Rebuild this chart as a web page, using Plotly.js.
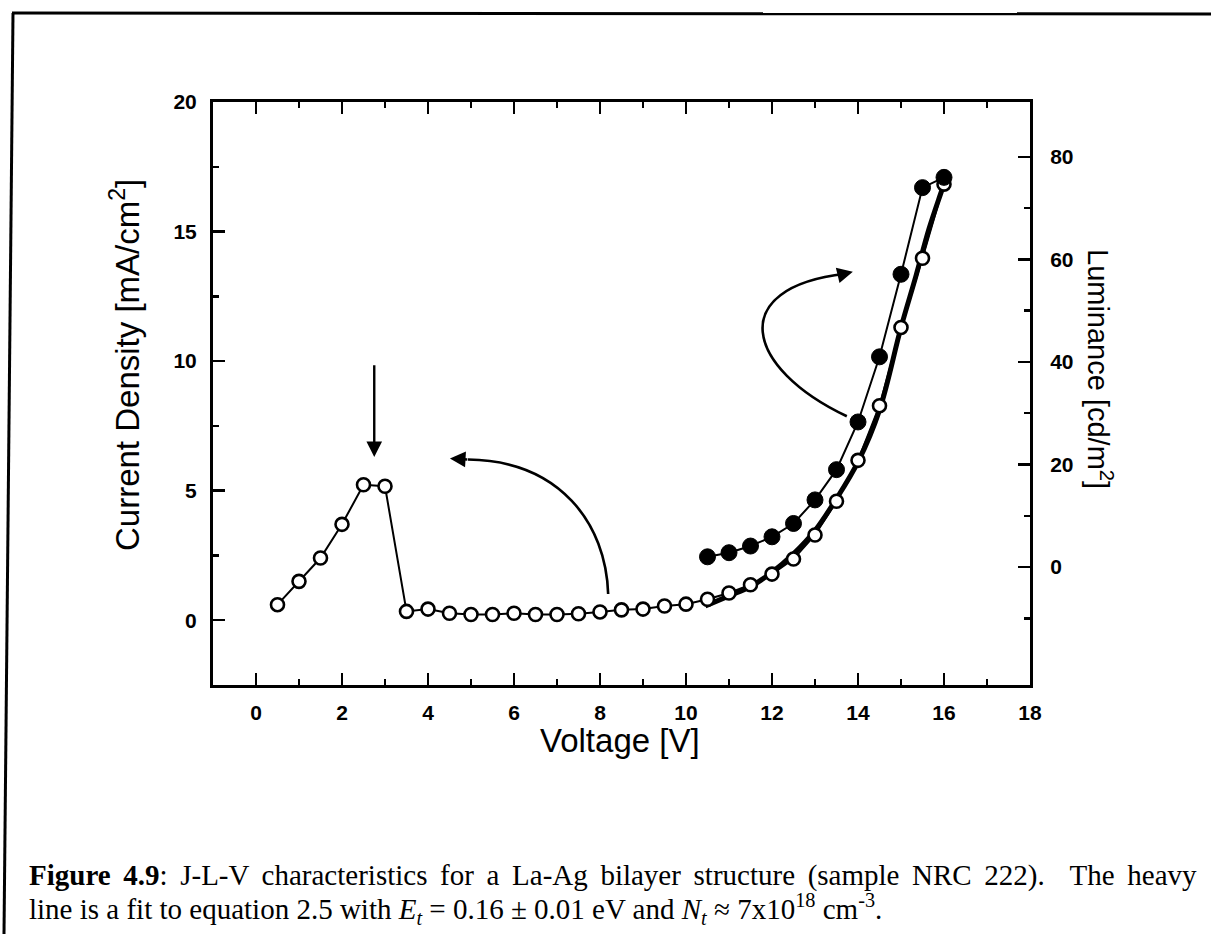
<!DOCTYPE html>
<html>
<head>
<meta charset="utf-8">
<script src="https://cdn.plot.ly/plotly-3.0.1.min.js"></script>
<style>
html,body{margin:0;padding:0;background:#fff;}
#chart{width:1211px;height:934px;}
</style>
</head>
<body>
<div id="chart"></div>
<script>
// ---- data ----
const currentV = [0.5,1.0,1.5,2.0,2.5,3.0,3.5,4.0,4.5,5.0,5.5,6.0,6.5,7.0,7.5,8.0,8.5,9.0,9.5,10.0,10.5,11.0,11.5,12.0,12.5,13.0,13.5,14.0,14.5,15.0,15.5,16.0];
const currentJ = [0.6,1.5,2.4,3.7,5.23,5.17,0.34,0.43,0.27,0.22,0.22,0.27,0.22,0.22,0.25,0.32,0.4,0.43,0.55,0.62,0.81,1.05,1.37,1.78,2.36,3.29,4.59,6.17,8.28,11.3,13.97,16.83];
const lumV = [10.5,11.0,11.5,12.0,12.5,13.0,13.5,14.0,14.5,15.0,15.5,16.0];
const lumL = [2.0,2.8,4.1,5.9,8.5,13.1,19.0,28.3,41.0,57.1,74.0,76.0];
const fitV = [10.45,11.0,11.5,12.0,12.5,13.0,13.5,14.0,14.5,15.0,15.35,15.65,15.95,16.05];
const fitJ = [0.55,0.94,1.30,1.85,2.56,3.46,4.69,6.11,8.11,11.3,13.3,15.1,16.6,17.1];
const xTicks = [0,2,4,6,8,10,12,14,16,18];
const yTicks = [0,5,10,15,20];
const y2Ticks = [0,20,40,60,80];
const captionLine1 = '<b>Figure 4.9</b>: J-L-V characteristics for a La-Ag bilayer structure (sample NRC 222).\u00a0 The heavy';
const captionLine2 = 'line is a fit to equation 2.5 with <i>E<sub>t</sub></i> = 0.16 \u00b1 0.01 eV and <i>N<sub>t</sub></i> \u2248 7x10<sup>18</sup> cm<sup>-3</sup>.';

const tickFont = {family:'"Liberation Sans", Arial, sans-serif', size:21, color:'#000', weight:'bold'};
const titleFont = {family:'"Liberation Sans", Arial, sans-serif', size:33, color:'#000'};
const capFont = {family:'"Liberation Serif", "Times New Roman", serif', size:29, color:'#000'};

const traces = [
  {x:fitV, y:fitJ, mode:'lines', line:{color:'#000', width:5, shape:'spline'}, hoverinfo:'skip', showlegend:false},
  {x:currentV, y:currentJ, mode:'lines+markers', line:{color:'#000', width:2},
   marker:{symbol:'circle', size:13, color:'#fff', line:{color:'#000', width:2.6}}, showlegend:false},
  {x:lumV, y:lumL, yaxis:'y2', mode:'lines+markers', line:{color:'#000', width:2},
   marker:{symbol:'circle', size:16, color:'#000', line:{color:'#000', width:1}}, showlegend:false}
];

// plot area: x 213..1030 px, y 102..685 px
const px = v => (v-213)/817;
const py = v => (685-v)/583;

const layout = {
  width:1211, height:934,
  margin:{l:213, r:181, t:102, b:249, pad:0},
  paper_bgcolor:'#fff', plot_bgcolor:'#fff',
  showlegend:false,
  xaxis:{range:[-1,18], tickmode:'array', tickvals:xTicks, ticks:'inside', ticklen:12, tickwidth:2.5,
         tickcolor:'#000', showline:true, linewidth:3, linecolor:'#000', mirror:'ticks',
         showgrid:false, zeroline:false, tickfont:tickFont, ticklabelstandoff:7,
         minor:{tickmode:'array', tickvals:[1,3,5,7,9,11,13,15,17], ticks:'inside', ticklen:6, tickwidth:2.5, tickcolor:'#000', showgrid:false}},
  yaxis:{range:[-2.5,20], tickmode:'array', tickvals:yTicks, ticks:'inside', ticklen:12, tickwidth:2.5,
         tickcolor:'#000', showline:true, linewidth:3, linecolor:'#000', mirror:false,
         showgrid:false, zeroline:false, tickfont:tickFont, ticklabelstandoff:9,
         minor:{tickmode:'array', tickvals:[2.5,7.5,12.5,17.5], ticks:'inside', ticklen:6, tickwidth:2.5, tickcolor:'#000', showgrid:false}},
  yaxis2:{range:[-23,90.7], overlaying:'y', side:'right', tickmode:'array', tickvals:y2Ticks, ticks:'inside',
          ticklen:12, tickwidth:2.5, tickcolor:'#000', showline:true, linewidth:3, linecolor:'#000',
          showgrid:false, zeroline:false, tickfont:tickFont, ticklabelstandoff:13,
          minor:{tickmode:'array', tickvals:[-10,10,30,50,70], ticks:'inside', ticklen:6, tickwidth:2.5, tickcolor:'#000', showgrid:false}},
  shapes:[
    // curved arrow shafts
    {type:'path', xref:'x', yref:'y', path:'M 8.19,1.01 C 8.14,3.72 7.07,6.16 4.93,6.20', line:{color:'#000', width:2.6}},
    {type:'path', xref:'x', yref:'y', path:'M 13.74,7.87 C 11.37,9.73 10.91,12.83 13.70,13.37', line:{color:'#000', width:2.6}},
    // page frame
    {type:'line', xref:'paper', yref:'paper', x0:px(13), y0:py(13), x1:px(4), y1:py(934), line:{color:'#000', width:3}},
    {type:'line', xref:'paper', yref:'paper', x0:px(12), y0:py(13), x1:px(1211), y1:py(14), line:{color:'#000', width:3}}
  ],
  annotations:[
    {x:2.75, y:6.3, ax:2.75, ay:9.9, xref:'x', yref:'y', axref:'x', ayref:'y', text:'', showarrow:true,
     arrowhead:2, arrowsize:1.3, arrowwidth:2.4, arrowcolor:'#000'},
    {x:4.51, y:6.24, ax:4.95, ay:6.20, xref:'x', yref:'y', axref:'x', ayref:'y', text:'', showarrow:true,
     arrowhead:2, arrowsize:1.3, arrowwidth:2.4, arrowcolor:'#000'},
    {x:13.88, y:13.45, ax:13.68, ay:13.37, xref:'x', yref:'y', axref:'x', ayref:'y', text:'', showarrow:true,
     arrowhead:2, arrowsize:1.3, arrowwidth:2.4, arrowcolor:'#000'},
    {x:px(620), y:py(741), xref:'paper', yref:'paper', text:'Voltage [V]', showarrow:false,
     xanchor:'center', yanchor:'middle', font:titleFont},
    {x:px(125), y:py(365), xref:'paper', yref:'paper', text:'Current Density [mA/cm<sup>2</sup>]', showarrow:false,
     textangle:-90, xanchor:'center', yanchor:'middle', font:titleFont},
    {x:px(1100), y:py(369), xref:'paper', yref:'paper', text:'Luminance [cd/m<sup>2</sup>]', showarrow:false,
     textangle:90, xanchor:'center', yanchor:'middle', font:Object.assign({}, titleFont, {size:29})},
    {x:px(27), y:py(875), xref:'paper', yref:'paper', xanchor:'left', yanchor:'middle', showarrow:false, align:'left',
     text:captionLine1, font:capFont},
    {x:px(27), y:py(909), xref:'paper', yref:'paper', xanchor:'left', yanchor:'middle', showarrow:false, align:'left',
     text:captionLine2, font:capFont}
  ]
};

Plotly.newPlot('chart', traces, layout, {staticPlot:true, displayModeBar:false}).then(function(gd){
  // justify the first caption line (the original paragraph is fully justified)
  const targetRight = 1195;
  gd.querySelectorAll('text.annotation-text').forEach(function(t){
    if (t.textContent.indexOf('Figure 4.9') === 0) {
      const before = t.getBBox();
      const nSpaces = (t.textContent.match(/[ \u00a0]/g) || []).length;
      const left = 27;
      const extra = (targetRight - left - before.width) / nSpaces;
      if (extra > 0) {
        t.style.wordSpacing = extra + 'px';
        const after = t.getBBox();
        const shift = before.x - after.x;
        const x0 = parseFloat(t.getAttribute('x')) || 0;
        t.setAttribute('x', x0 + shift);
      }
    }
  });
});
</script>
</body>
</html>
